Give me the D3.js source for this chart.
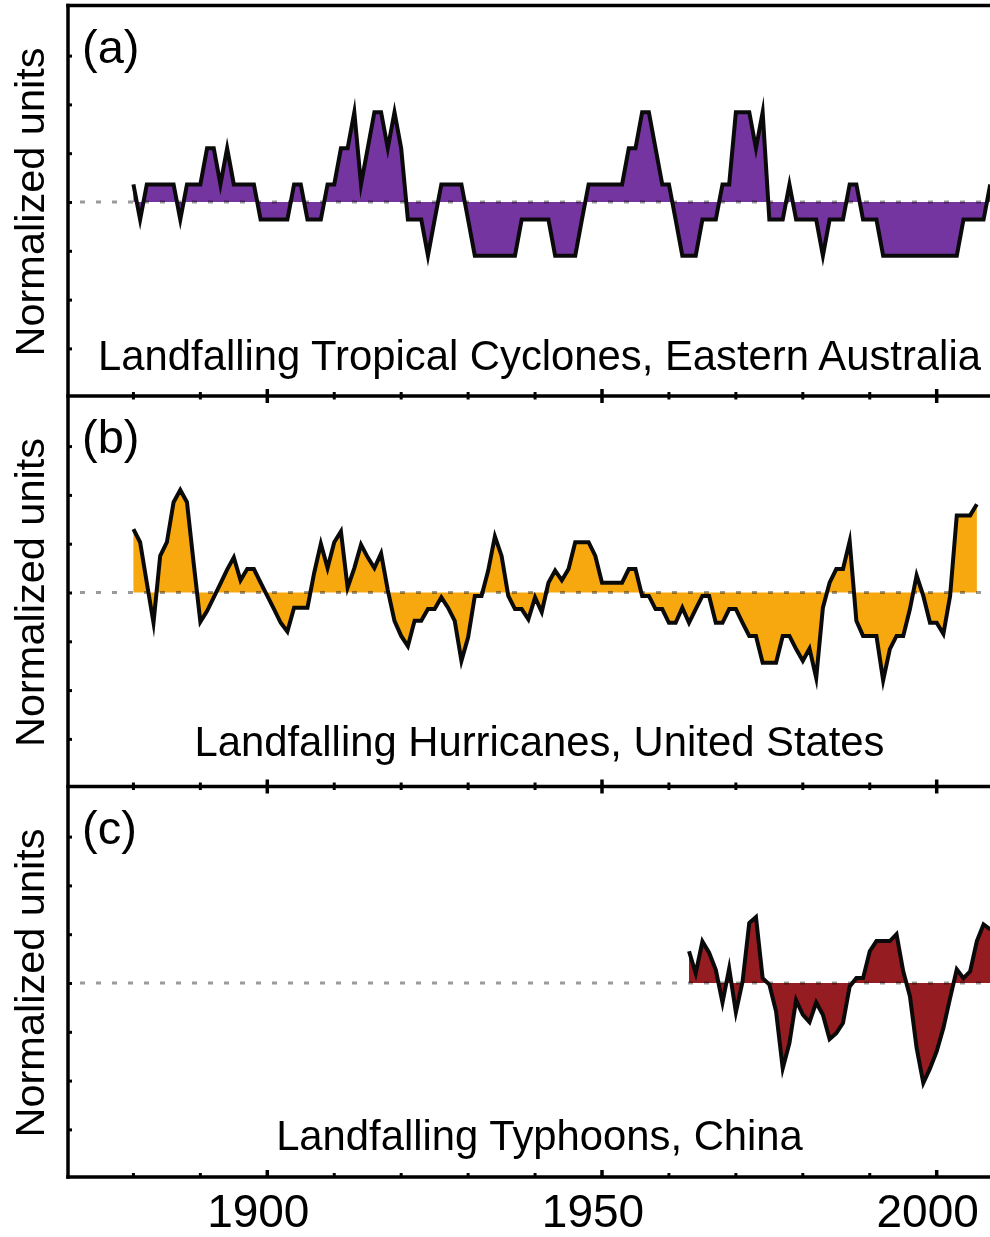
<!DOCTYPE html>
<html>
<head>
<meta charset="utf-8">
<script src="https://cdn.jsdelivr.net/npm/d3@7"></script>
<style>
  html, body { margin: 0; padding: 0; background: #fff; }
  svg { display: block; font-family: "Liberation Sans", Arial, Helvetica, sans-serif; }
</style>
</head>
<body>
<svg id="chart" width="990" height="1237"></svg>
<script>
// ---------------- DATA ----------------
const panelLetters = ["(a)", "(b)", "(c)"];
const panelTitles = [
  "Landfalling Tropical Cyclones, Eastern Australia",
  "Landfalling Hurricanes, United States",
  "Landfalling Typhoons, China"
];
const panelColors = ["#7535a0", "#f8a80f", "#951c21"];
const yAxisLabel = "Normalized units";

const startYearA = 1880;
const valuesA = [
  0.36, -0.36, 0.36, 0.36, 0.36, 0.36, 0.36, -0.36, 0.36, 0.36,   // 1880-1889
  0.36, 1.1, 1.1, 0.36, 1.1, 0.36, 0.36, 0.36, 0.36, -0.36,       // 1890-1899
  -0.36, -0.36, -0.36, -0.36, 0.36, 0.36, -0.36, -0.36, -0.36, 0.36, // 1900-1909
  0.36, 1.1, 1.1, 1.84, 0.36, 1.1, 1.84, 1.84, 1.1, 1.84,         // 1910-1919
  1.1, -0.36, -0.36, -0.36, -1.1, -0.36, 0.36, 0.36, 0.36, 0.36,  // 1920-1929
  -0.36, -1.1, -1.1, -1.1, -1.1, -1.1, -1.1, -1.1, -0.36, -0.36,  // 1930-1939
  -0.36, -0.36, -0.36, -1.1, -1.1, -1.1, -1.1, -0.36, 0.36, 0.36, // 1940-1949
  0.36, 0.36, 0.36, 0.36, 1.1, 1.1, 1.84, 1.84, 1.1, 0.36,        // 1950-1959
  0.36, -0.36, -1.1, -1.1, -1.1, -0.36, -0.36, -0.36, 0.36, 0.36, // 1960-1969
  1.84, 1.84, 1.84, 1.1, 1.84, -0.36, -0.36, -0.36, 0.36, -0.36,  // 1970-1979
  -0.36, -0.36, -0.36, -1.1, -0.36, -0.36, -0.36, 0.36, 0.36, -0.36, // 1980-1989
  -0.36, -0.36, -1.1, -1.1, -1.1, -1.1, -1.1, -1.1, -1.1, -1.1,   // 1990-1999
  -1.1, -1.1, -1.1, -1.1, -0.36, -0.36, -0.36, -0.36, 0.36        // 2000-2008
];

const startYearB = 1880;
const valuesB = [
  1.30, 1.03, 0.2, -0.62, 0.75, 1.03, 1.85, 2.1, 1.85, 0.6,        // 1880-1889
  -0.6, -0.38, -0.1, 0.18, 0.47, 0.72, 0.25, 0.48, 0.48, 0.2,      // 1890-1899
  -0.07, -0.34, -0.62, -0.8, -0.31, -0.31, -0.31, 0.4, 1.0, 0.5,   // 1900-1909
  1.03, 1.25, 0.1, 0.5, 0.98, 0.72, 0.5, 0.8, 0.05, -0.58,         // 1910-1919
  -0.89, -1.1, -0.58, -0.58, -0.34, -0.34, -0.1, -0.31, -0.58, -1.4, // 1920-1929
  -0.92, -0.07, -0.07, 0.45, 1.15, 0.75, -0.07, -0.34, -0.34, -0.55,  // 1930-1939
  -0.1, -0.4, 0.2, 0.45, 0.25, 0.48, 1.03, 1.03, 1.03, 0.75,       // 1940-1949
  0.2, 0.2, 0.2, 0.2, 0.48, 0.48, -0.07, -0.07, -0.34, -0.34,      // 1950-1959
  -0.62, -0.62, -0.31, -0.62, -0.34, -0.07, -0.07, -0.62, -0.62, -0.34, // 1960-1969
  -0.34, -0.62, -0.89, -0.89, -1.44, -1.44, -1.44, -0.89, -0.89, -1.16, // 1970-1979
  -1.4, -1.15, -1.75, -0.31, 0.2, 0.48, 0.48, 1.05, -0.58, -0.89,  // 1980-1989
  -0.89, -0.89, -1.8, -1.16, -0.89, -0.89, -0.34, 0.35, -0.07, -0.62, // 1990-1999
  -0.62, -0.85, -0.07, 1.58, 1.58, 1.58, 1.81                      // 2000-2006
];

const startYearC = 1963;
const valuesC = [
  0.65, 0.2, 0.85, 0.62, 0.27, -0.4, 0.3,                          // 1963-1969
  -0.6, 0.03, 1.23, 1.35, 0.1, -0.03, -0.58, -1.75, -1.23, -0.35,  // 1970-1979
  -0.65, -0.8, -0.4, -0.65, -1.15, -1.03, -0.82, -0.07, 0.1, 0.1,  // 1980-1989
  0.65, 0.86, 0.86, 0.86, 1.0, 0.24, -0.27, -1.33, -2.05, -1.75,   // 1990-1999
  -1.4, -0.92, -0.31, 0.28, 0.1, 0.24, 0.86, 1.2, 1.1              // 2000-2008
];

const yTickValues = [-3, -2, -1, 0, 1, 2, 3];
const xMinorTicks = [1880, 1890, 1910, 1920, 1930, 1940, 1960, 1970, 1980, 1990];
const xMajorTicks = [1900, 1950, 2000];
const xTickLabels = ["1900", "1950", "2000"];

// ---------------- LAYOUT ----------------
const W = 990, H = 1237;
const axisX = 68;
const top0 = 5.5;
const panelH = 390.5;
const zeroOff = 196.5;
const pxPerUnit = 48.8;

const svg = d3.select("#chart");

const x = d3.scaleLinear().domain([1900, 2000]).range([267.3, 936.7]);

const series = [
  { start: startYearA, vals: valuesA },
  { start: startYearB, vals: valuesB },
  { start: startYearC, vals: valuesC }
];

series.forEach((s, i) => {
  const top = top0 + i * panelH;
  const y = d3.scaleLinear()
    .domain([-(panelH - zeroOff) / pxPerUnit, zeroOff / pxPerUnit])
    .range([top + panelH, top]);
  const data = s.vals.map((v, k) => ({ year: s.start + k, v }));
  const g = svg.append("g");

  // fill
  g.append("path")
    .datum(data)
    .attr("fill", panelColors[i])
    .attr("d", d3.area().x(d => x(d.year)).y0(y(0)).y1(d => y(d.v)));

  // dotted zero line
  g.append("line")
    .attr("x1", 80).attr("x2", W)
    .attr("y1", y(0)).attr("y2", y(0))
    .attr("stroke", "#9a9a9a")
    .attr("stroke-width", 3)
    .attr("stroke-dasharray", "5,11")
    .style("mix-blend-mode", "multiply");

  // black line
  g.append("path")
    .datum(data)
    .attr("fill", "none")
    .attr("stroke", "#0a0a0a")
    .attr("stroke-width", 4)
    .attr("stroke-linejoin", "miter")
    .attr("stroke-miterlimit", 12)
    .attr("d", d3.line().x(d => x(d.year)).y(d => y(d.v)));

  // y ticks
  const yAxis = d3.axisRight(y).tickValues(yTickValues).tickSize(4).tickFormat("");
  const ya = g.append("g").attr("transform", `translate(${axisX},0)`).call(yAxis);
  ya.select(".domain").remove();
  ya.selectAll(".tick line").attr("stroke", "#000").attr("stroke-width", 3);

  // panel letter
  g.append("text")
    .attr("x", 82).attr("y", top + 57)
    .attr("font-size", 47)
    .attr("fill", "#000")
    .text(panelLetters[i]);

  // title
  g.append("text")
    .attr("x", 539.5).attr("y", top + [364.5, 360, 363][i])
    .attr("text-anchor", "middle")
    .attr("font-size", 41.8)
    .attr("fill", "#000")
    .text(panelTitles[i]);

  // y label
  g.append("text")
    .attr("transform", `translate(44,${y(0)}) rotate(-90)`)
    .attr("text-anchor", "middle")
    .attr("font-size", 41.5)
    .attr("fill", "#000")
    .text(yAxisLabel);
});

// horizontal frame lines with ticks
const hLines = [0, 1, 2, 3].map(k => top0 + k * panelH);
hLines.forEach((yy, k) => {
  svg.append("line")
    .attr("x1", axisX - 1.75).attr("x2", W)
    .attr("y1", yy).attr("y2", yy)
    .attr("stroke", "#000").attr("stroke-width", 3.5);
  if (k === 0) return;
  const isBottom = k === 3;
  xMinorTicks.forEach(t => {
    svg.append("line")
      .attr("x1", x(t)).attr("x2", x(t))
      .attr("y1", yy - 4).attr("y2", isBottom ? yy : yy + 3.5)
      .attr("stroke", "#000").attr("stroke-width", 3);
  });
  xMajorTicks.forEach(t => {
    svg.append("line")
      .attr("x1", x(t)).attr("x2", x(t))
      .attr("y1", yy - 7).attr("y2", isBottom ? yy : yy + 7)
      .attr("stroke", "#000").attr("stroke-width", 3.5);
  });
});

// left axis line
svg.append("line")
  .attr("x1", axisX).attr("x2", axisX)
  .attr("y1", top0 - 1.75).attr("y2", top0 + 3 * panelH + 1.75)
  .attr("stroke", "#000").attr("stroke-width", 3.5);

// x tick labels
xMajorTicks.forEach((t, i) => {
  svg.append("text")
    .attr("x", x(t) - 9).attr("y", 1227)
    .attr("text-anchor", "middle")
    .attr("font-size", 46)
    .attr("fill", "#000")
    .text(xTickLabels[i]);
});
</script>
</body>
</html>
